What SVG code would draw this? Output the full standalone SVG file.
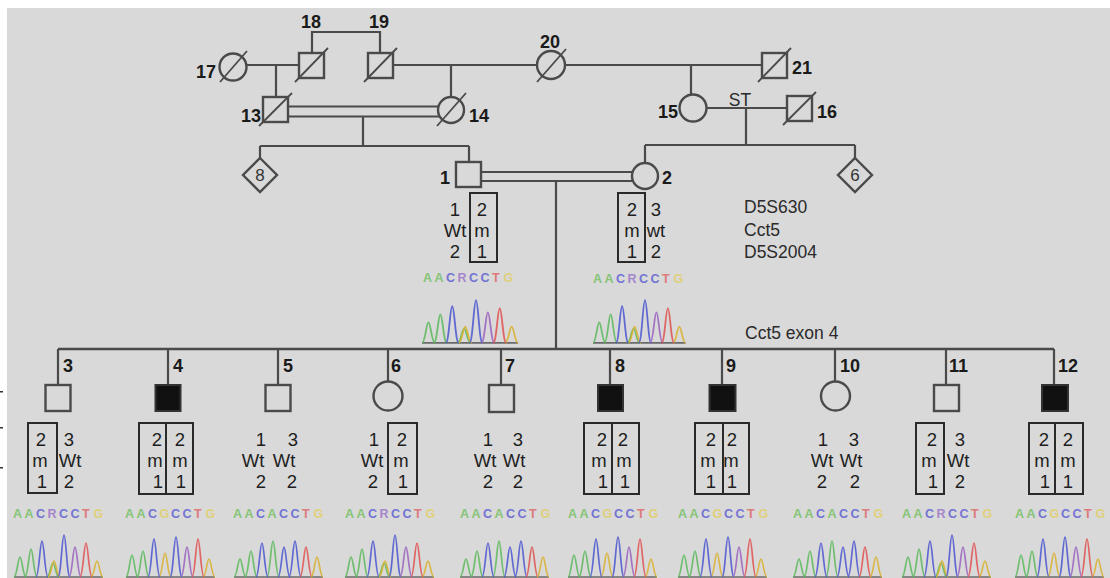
<svg xmlns="http://www.w3.org/2000/svg" width="1110" height="578" viewBox="0 0 1110 578">
<style>
.ln{fill:none;stroke:#4a4a4a;stroke-width:2.2}
.sym{fill:#d9d9d9;stroke:#4a4a4a;stroke-width:2.4}
.aff{fill:#111;stroke:#333;stroke-width:2}
.sl{stroke:#4a4a4a;stroke-width:1.8}
.lb{font-family:"Liberation Sans",Arial,sans-serif;font-weight:bold;font-size:18px;fill:#1a1a1a}
.gt{font-family:"Liberation Sans",Arial,sans-serif;font-size:18.5px;fill:#1e1e1e;text-anchor:middle}
.dl{font-family:"Liberation Sans",Arial,sans-serif;font-size:17px;fill:#333;text-anchor:middle}
.bx{fill:none;stroke:#2a2a2a;stroke-width:2}
.tx{font-family:"Liberation Sans",Arial,sans-serif;font-size:17.5px;fill:#2a2a2a}
.sq{font-family:"Liberation Sans",Arial,sans-serif;font-size:12.5px;font-weight:bold;opacity:0.8}
.a{fill:#72bf5e}.c{fill:#5a5ad2}.t{fill:#e06464}.g{fill:#e2cf62}.r{fill:#9a72c8}
.pk{fill:none;stroke-width:1.7;stroke-linejoin:round;opacity:0.85}
.pa{stroke:#5cb85c}.pc{stroke:#4a55d0}.pt{stroke:#e05050}.pg{stroke:#d8b030}.pp{stroke:#9a60c0}
.bl{stroke:#6a6a6a;stroke-width:1.6}
</style>
<defs>
<g id="sWT"><text class="sq"><tspan x="0" class="a">A</tspan><tspan x="11.5" class="a">A</tspan><tspan x="23" class="c">C</tspan><tspan x="34.5" class="a">A</tspan><tspan x="46" class="c">C</tspan><tspan x="57.5" class="c">C</tspan><tspan x="69" class="t">T</tspan><tspan x="80.5" class="g">G</tspan></text></g>
<g id="sHet"><text class="sq"><tspan x="0" class="a">A</tspan><tspan x="11.5" class="a">A</tspan><tspan x="23" class="c">C</tspan><tspan x="34.5" class="r">R</tspan><tspan x="46" class="c">C</tspan><tspan x="57.5" class="c">C</tspan><tspan x="69" class="t">T</tspan><tspan x="80.5" class="g">G</tspan></text></g>
<g id="sMut"><text class="sq"><tspan x="0" class="a">A</tspan><tspan x="11.5" class="a">A</tspan><tspan x="23" class="c">C</tspan><tspan x="34.5" class="g">G</tspan><tspan x="46" class="c">C</tspan><tspan x="57.5" class="c">C</tspan><tspan x="69" class="t">T</tspan><tspan x="80.5" class="g">G</tspan></text></g>
<g id="tWT">
<line class="bl" x1="0" y1="44" x2="89" y2="44"/>
<path class="pk pa" d="M0 44 C3 44 4 26 6 26 C8 26 9 44 12 44 M11 44 C14 44 15 18 17 18 C19 18 20 44 23 44 M33 44 C36 44 37 8 39 8 C41 8 42 44 45 44"/>
<path class="pk pc" d="M22 44 C25 44 26 10 28 10 C30 10 31 44 34 44 M44 44 C47 44 48 14 50 14 C52 14 53 44 56 44 M55 44 C58 44 59 8 61 8 C63 8 64 44 67 44"/>
<path class="pk pt" d="M66 44 C69 44 70 14 72 14 C74 14 75 44 78 44"/>
<path class="pk pg" d="M77 44 C80 44 81 24 83 24 C85 24 86 44 89 44"/>
</g>
<g id="tHet">
<line class="bl" x1="0" y1="44" x2="89" y2="44"/>
<path class="pk pa" d="M0 44 C3 44 4 24 6 24 C8 24 9 44 12 44 M11 44 C14 44 15 16 17 16 C19 16 20 44 23 44 M33 44 C36 44 37 30 39 30 C41 30 42 44 45 44"/>
<path class="pk pg" d="M34 44 C37 44 38 28 40 28 C42 28 43 44 46 44 M77 44 C80 44 81 28 83 28 C85 28 86 44 89 44"/>
<path class="pk pc" d="M22 44 C25 44 26 8 28 8 C30 8 31 44 34 44 M44 44 C47 44 48 2 50 2 C52 2 53 44 56 44"/>
<path class="pk pp" d="M55 44 C58 44 59 14 61 14 C63 14 64 44 67 44"/>
<path class="pk pt" d="M66 44 C69 44 70 10 72 10 C74 10 75 44 78 44"/>
</g>
<g id="tMut">
<line class="bl" x1="0" y1="44" x2="89" y2="44"/>
<path class="pk pa" d="M0 44 C3 44 4 22 6 22 C8 22 9 44 12 44 M11 44 C14 44 15 18 17 18 C19 18 20 44 23 44"/>
<path class="pk pg" d="M33 44 C36 44 37 20 39 20 C41 20 42 44 45 44 M77 44 C80 44 81 26 83 26 C85 26 86 44 89 44"/>
<path class="pk pc" d="M22 44 C25 44 26 6 28 6 C30 6 31 44 34 44 M44 44 C47 44 48 4 50 4 C52 4 53 44 56 44"/>
<path class="pk pp" d="M55 44 C58 44 59 14 61 14 C63 14 64 44 67 44"/>
<path class="pk pt" d="M66 44 C69 44 70 6 72 6 C74 6 75 44 78 44"/>
</g>
</defs>
<rect x="0" y="0" width="1110" height="578" fill="#ffffff"/>
<rect x="7" y="8" width="1103" height="570" fill="#d9d9d9"/>
<g id="edge-marks" fill="#333">
<rect x="0" y="391" width="3" height="1.5"/>
<rect x="0" y="427" width="3" height="1.5"/>
<rect x="0" y="467" width="3" height="1.5"/>
</g>

<g id="connectors" class="ln">
<path d="M312 53 V32 H380 V53"/>
<path d="M246.5 65 H299"/>
<path d="M276 65 V97"/>
<path d="M393 65 H537"/>
<path d="M451 65 V97"/>
<path d="M565 65 H762"/>
<path d="M691 65 V94.5"/>
<path d="M288 106.5 H439 M288 116.5 H439"/>
<path d="M363 116.5 V146 M260 146 H469 M260 146 V158 M469 146 V162"/>
<path d="M706.5 108 H787"/>
<path d="M746 108 V145 M645 145 H855 M645 145 V163 M855 145 V158"/>
<path d="M481 172 H633 M481 181 H633"/>
<path d="M556 181 V349"/>
<path d="M58 349 H1054" stroke-width="2.6"/>
<path d="M58 349 V385 M168 349 V385 M278 349 V385 M388 349 V381.5 M501 349 V385 M610 349 V385 M722 349 V385 M835 349 V381.5 M946 349 V385 M1054 349 V385"/>
</g>

<g id="p17"><circle class="sym" cx="233" cy="67" r="13.5"/><line class="sl" x1="220" y1="82" x2="247" y2="51"/><text class="lb" x="216" y="78" text-anchor="end">17</text></g>
<g id="p18"><rect class="sym" x="299" y="53" width="25" height="25"/><line class="sl" x1="295" y1="82" x2="328" y2="48"/><text class="lb" x="311" y="28" text-anchor="middle">18</text></g>
<g id="p19"><rect class="sym" x="368" y="53" width="25" height="25"/><line class="sl" x1="364" y1="82" x2="397" y2="48"/><text class="lb" x="379" y="28" text-anchor="middle">19</text></g>
<g id="p20"><circle class="sym" cx="551" cy="65" r="14"/><line class="sl" x1="537" y1="82" x2="566" y2="49"/><text class="lb" x="550" y="48" text-anchor="middle">20</text></g>
<g id="p21"><rect class="sym" x="762" y="53" width="25" height="25"/><line class="sl" x1="758" y1="82" x2="791" y2="48"/><text class="lb" x="792" y="74">21</text></g>
<g id="p13"><rect class="sym" x="263" y="97" width="25" height="25"/><line class="sl" x1="259" y1="126" x2="292" y2="93"/><text class="lb" x="261" y="122" text-anchor="end">13</text></g>
<g id="p14"><circle class="sym" cx="451" cy="110" r="13"/><line class="sl" x1="437" y1="126" x2="466" y2="93"/><text class="lb" x="469" y="122">14</text></g>
<g id="p15"><circle class="sym" cx="693" cy="108" r="13.5"/><text class="lb" x="678" y="118" text-anchor="end">15</text></g>
<g id="p16"><rect class="sym" x="787" y="96" width="25" height="25"/><line class="sl" x1="783" y1="125" x2="816" y2="92"/><text class="lb" x="817" y="118">16</text></g>
<g id="st-label"><text class="tx" x="740" y="106" text-anchor="middle" font-size="16">ST</text></g>

<g id="d8"><polygon class="sym" points="260,158 277,175 260,192 243,175"/><text class="dl" x="260" y="181">8</text></g>
<g id="d6"><polygon class="sym" points="855,158 872,175 855,192 838,175"/><text class="dl" x="855" y="181">6</text></g>

<g id="p1">
<rect class="sym" x="456" y="162" width="25" height="25"/>
<text class="lb" x="450" y="184" text-anchor="end">1</text>
<rect class="bx" x="470" y="193" width="27" height="69"/>
<text class="gt" x="455" y="216">1</text><text class="gt" x="455" y="237">Wt</text><text class="gt" x="455" y="258">2</text>
<text class="gt" x="482" y="216">2</text><text class="gt" x="482" y="237">m</text><text class="gt" x="482" y="258">1</text>
<use href="#sHet" x="423" y="282"/>
<use href="#tHet" transform="translate(422,298) scale(1.08,1.02)"/>
</g>
<g id="p2">
<circle class="sym" cx="645" cy="176" r="13"/>
<text class="lb" x="662" y="184">2</text>
<rect class="bx" x="618" y="193" width="27" height="69"/>
<text class="gt" x="632" y="216">2</text><text class="gt" x="632" y="237">m</text><text class="gt" x="632" y="258">1</text>
<text class="gt" x="656" y="216">3</text><text class="gt" x="656" y="237">wt</text><text class="gt" x="656" y="258">2</text>
<use href="#sHet" x="593" y="283"/>
<use href="#tHet" transform="translate(593,298) scale(1.04,1.02)"/>
</g>

<g id="legend">
<text class="tx" x="744" y="213">D5S630</text>
<text class="tx" x="744" y="236">Cct5</text>
<text class="tx" x="744" y="258">D5S2004</text>
<text class="tx" x="745" y="339">Cct5 exon 4</text>
</g>

<g id="c3">
<rect class="sym" x="45.5" y="385" width="25" height="26"/>
<text class="lb" x="63" y="372">3</text>
<rect class="bx" x="28" y="423" width="29" height="70"/>
<text class="gt" x="41" y="446">2</text><text class="gt" x="40" y="467">m</text><text class="gt" x="42" y="488">1</text>
<text class="gt" x="69" y="446">3</text><text class="gt" x="70" y="467">Wt</text><text class="gt" x="69" y="488">2</text>
<use href="#sHet" x="13" y="518"/>
<use href="#tHet" transform="translate(14,533)"/>
</g>
<g id="c4">
<rect class="aff" x="155.5" y="385" width="25" height="26"/>
<text class="lb" x="173" y="372">4</text>
<rect class="bx" x="139" y="423" width="54" height="71"/><line class="bx" x1="166" y1="423" x2="166" y2="494"/>
<text class="gt" x="157" y="446">2</text><text class="gt" x="155" y="467">m</text><text class="gt" x="158" y="488">1</text>
<text class="gt" x="180" y="446">2</text><text class="gt" x="180" y="467">m</text><text class="gt" x="181" y="488">1</text>
<use href="#sMut" x="125" y="518"/>
<use href="#tMut" transform="translate(126,533)"/>
</g>
<g id="c5">
<rect class="sym" x="265.5" y="385" width="25" height="26"/>
<text class="lb" x="283" y="372">5</text>
<text class="gt" x="261" y="446">1</text><text class="gt" x="253" y="467">Wt</text><text class="gt" x="261" y="488">2</text>
<text class="gt" x="293" y="446">3</text><text class="gt" x="284" y="467">Wt</text><text class="gt" x="292" y="488">2</text>
<use href="#sWT" x="233" y="518"/>
<use href="#tWT" transform="translate(234,533)"/>
</g>
<g id="c6">
<circle class="sym" cx="388" cy="396" r="14.5"/>
<text class="lb" x="391" y="372">6</text>
<rect class="bx" x="388" y="423" width="29" height="71"/>
<text class="gt" x="374" y="446">1</text><text class="gt" x="372" y="467">Wt</text><text class="gt" x="373" y="488">2</text>
<text class="gt" x="402" y="446">2</text><text class="gt" x="401" y="467">m</text><text class="gt" x="403" y="488">1</text>
<use href="#sHet" x="345" y="518"/>
<use href="#tHet" transform="translate(345,533)"/>
</g>
<g id="c7">
<rect class="sym" x="489" y="385" width="25" height="27"/>
<text class="lb" x="505" y="372">7</text>
<text class="gt" x="488" y="446">1</text><text class="gt" x="485" y="467">Wt</text><text class="gt" x="488" y="488">2</text>
<text class="gt" x="518" y="446">3</text><text class="gt" x="514" y="467">Wt</text><text class="gt" x="518" y="488">2</text>
<use href="#sWT" x="460" y="518"/>
<use href="#tWT" transform="translate(460,533)"/>
</g>
<g id="c8">
<rect class="aff" x="598" y="385" width="25" height="26"/>
<text class="lb" x="615" y="372">8</text>
<rect class="bx" x="584" y="423" width="55" height="71"/><line class="bx" x1="612" y1="423" x2="612" y2="494"/>
<text class="gt" x="602" y="446">2</text><text class="gt" x="599" y="467">m</text><text class="gt" x="603" y="488">1</text>
<text class="gt" x="623" y="446">2</text><text class="gt" x="624" y="467">m</text><text class="gt" x="625" y="488">1</text>
<use href="#sMut" x="568" y="518"/>
<use href="#tMut" transform="translate(568,533)"/>
</g>
<g id="c9">
<rect class="aff" x="709.5" y="385" width="26" height="26"/>
<text class="lb" x="726" y="372">9</text>
<rect class="bx" x="695" y="423" width="54" height="71"/><line class="bx" x1="723" y1="423" x2="723" y2="494"/>
<text class="gt" x="711" y="446">2</text><text class="gt" x="708" y="467">m</text><text class="gt" x="711" y="488">1</text>
<text class="gt" x="732" y="446">2</text><text class="gt" x="731" y="467">m</text><text class="gt" x="732" y="488">1</text>
<use href="#sMut" x="678" y="518"/>
<use href="#tMut" transform="translate(678,533)"/>
</g>
<g id="c10">
<circle class="sym" cx="835.5" cy="396" r="14.5"/>
<text class="lb" x="840" y="372">10</text>
<text class="gt" x="823" y="446">1</text><text class="gt" x="822" y="467">Wt</text><text class="gt" x="822" y="488">2</text>
<text class="gt" x="854" y="446">3</text><text class="gt" x="851" y="467">Wt</text><text class="gt" x="855" y="488">2</text>
<use href="#sWT" x="793" y="518"/>
<use href="#tWT" transform="translate(793,533)"/>
</g>
<g id="c11">
<rect class="sym" x="934" y="385" width="25" height="26"/>
<text class="lb" x="949" y="372">11</text>
<rect class="bx" x="916" y="423" width="28" height="71"/>
<text class="gt" x="932" y="446">2</text><text class="gt" x="929" y="467">m</text><text class="gt" x="933" y="488">1</text>
<text class="gt" x="960" y="446">3</text><text class="gt" x="958" y="467">Wt</text><text class="gt" x="960" y="488">2</text>
<use href="#sHet" x="902" y="518"/>
<use href="#tHet" transform="translate(902,533)"/>
</g>
<g id="c12">
<rect class="aff" x="1042" y="385" width="26" height="26"/>
<text class="lb" x="1058" y="372">12</text>
<rect class="bx" x="1029" y="423" width="54" height="71"/><line class="bx" x1="1055" y1="423" x2="1055" y2="494"/>
<text class="gt" x="1044" y="446">2</text><text class="gt" x="1042" y="467">m</text><text class="gt" x="1045" y="488">1</text>
<text class="gt" x="1068" y="446">2</text><text class="gt" x="1068" y="467">m</text><text class="gt" x="1068" y="488">1</text>
<use href="#sMut" x="1015" y="518"/>
<use href="#tMut" transform="translate(1015,533)"/>
</g>
</svg>
